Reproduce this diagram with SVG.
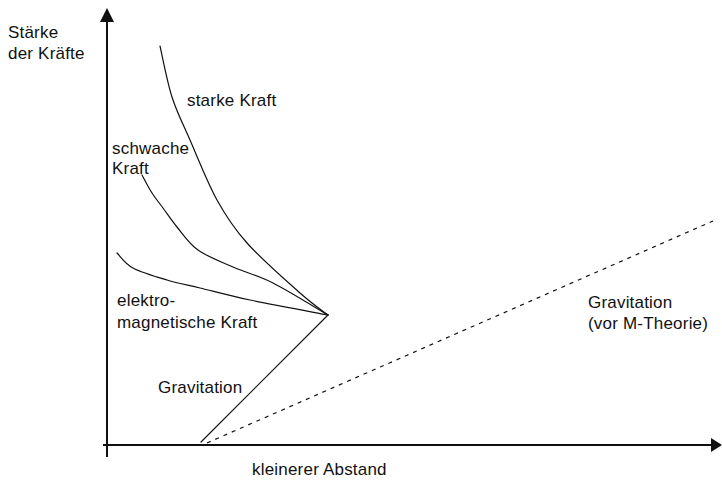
<svg xmlns="http://www.w3.org/2000/svg" width="722" height="481" viewBox="0 0 722 481">
<style>
text{font-family:"Liberation Sans",Arial,sans-serif;font-size:17px;fill:#111;letter-spacing:0.2px}
.ax{stroke:#111;stroke-width:2;fill:none}
.c{stroke:#111;stroke-width:1.2;fill:none;stroke-linejoin:round;stroke-linecap:round}
.d{stroke:#111;stroke-width:1.2;fill:none;stroke-dasharray:4 5}
</style>
<rect width="722" height="481" fill="#fff"/>
<g id="axes">
<line class="ax" x1="107" y1="20" x2="107" y2="457"/>
<polygon points="107,8 100,22 114,22" fill="#111"/>
<line class="ax" x1="103" y1="445" x2="713" y2="445"/>
<polygon points="722,445 711,438 711,452" fill="#111"/>
</g>
<g id="connectors">
<path id="starke" class="c" d="M160,46 C162,54.5 167,81.3 172,97 C177,112.7 182.5,122.8 190,140 C197.5,157.2 207.5,182.8 217,200 C226.5,217.2 233.2,227.5 247,243 C260.8,258.5 286.5,281 300,293 C313.5,305 323.3,311.3 328,315"/>
<path id="schwache" class="c" d="M142,175 C143.7,178 148.5,187.5 152,193 C155.5,198.5 158.8,202.3 163,208 C167.2,213.7 171.2,220 177,227 C182.8,234 188.7,243.3 198,250 C207.3,256.7 220.5,261.5 233,267 C245.5,272.5 257.2,275 273,283 C288.8,291 318.8,309.7 328,315"/>
<path id="em" class="c" d="M117,253 C119.7,255.5 124.7,263.5 133,268 C141.3,272.5 155.8,276.7 167,280 C178.2,283.3 186.2,284.7 200,288 C213.8,291.3 228.7,295.5 250,300 C271.3,304.5 315,312.5 328,315"/>
<line id="grav" class="c" x1="201" y1="442" x2="328" y2="315"/>
<line id="grav-m" class="d" x1="207" y1="443" x2="713" y2="221"/>
</g>
<g id="label-y"><text x="8" y="38">Stärke</text><text x="8" y="59">der Kräfte</text></g>
<g id="label-starke"><text x="187" y="106">starke Kraft</text></g>
<g id="label-schwache"><text x="112" y="154">schwache</text><text x="112" y="174">Kraft</text></g>
<g id="label-em"><text x="117" y="306">elektro-</text><text x="117" y="328">magnetische Kraft</text></g>
<g id="label-grav"><text x="158" y="393">Gravitation</text></g>
<g id="label-x"><text x="252" y="475">kleinerer Abstand</text></g>
<g id="label-grav-m"><text x="588" y="308">Gravitation</text><text x="588" y="329">(vor M-Theorie)</text></g>
</svg>
